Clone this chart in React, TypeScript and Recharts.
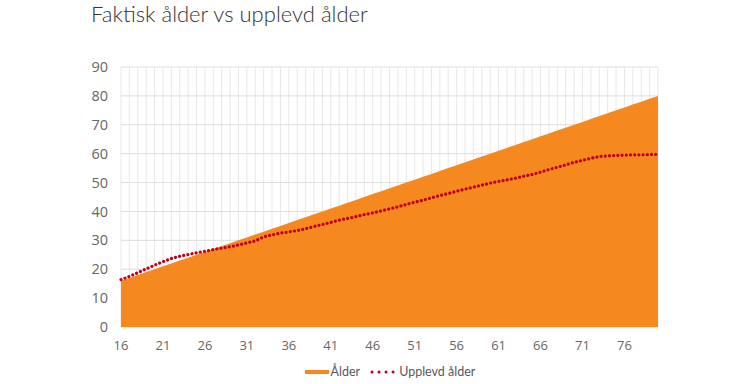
import { Area, CartesianGrid, ComposedChart, Line, XAxis, YAxis } from "recharts";

const ages = Array.from({ length: 65 }, (_, i) => 16 + i);

const actualAge = [
  16, 17, 18, 19, 20, 21, 22, 23, 24, 25, 26, 27, 28, 29, 30, 31, 32, 33, 34, 35, 36, 37, 38, 39, 40, 41, 42,
  43, 44, 45, 46, 47, 48, 49, 50, 51, 52, 53, 54, 55, 56, 57, 58, 59, 60, 61, 62, 63, 64, 65, 66, 67, 68, 69,
  70, 71, 72, 73, 74, 75, 76, 77, 78, 79, 80
];

const perceivedAge = [
  16.4, 17.5, 18.8, 20.1, 21.4, 22.6, 23.7, 24.5, 25.1, 25.7, 26.2, 26.8, 27.3, 27.8, 28.4, 29.1, 29.8, 31.2,
  31.9, 32.5, 32.9, 33.4, 34.0, 34.8, 35.5, 36.2, 37.0, 37.6, 38.2, 38.9, 39.5, 40.2, 40.9, 41.6, 42.4, 43.2,
  43.9, 44.7, 45.5, 46.2, 47.0, 47.7, 48.4, 49.1, 49.8, 50.4, 50.9, 51.5, 52.2, 52.8, 53.6, 54.5, 55.3, 56.1,
  57.0, 57.7, 58.4, 59.0, 59.2, 59.4, 59.5, 59.6, 59.6, 59.7, 59.8
];

const yTicks = [0, 10, 20, 30, 40, 50, 60, 70, 80, 90];

const data = ages.map((age, i) => ({ age, actual: actualAge[i], perceived: perceivedAge[i] }));

const ORANGE = "#F5891F";
const RED = "#C0001B";
const TEXT = "#666666";

function AgeTick(props: any) {
  const { x, y, payload, index } = props;
  if (index % 5 !== 0) return <g />;
  return (
    <text x={x} y={y} dy="0.71em" textAnchor="middle" fill={TEXT} fontSize={13} fontFamily="Open Sans">
      {payload.value}
    </text>
  );
}

function ChartLegend() {
  return (
    <div
      style={{
        position: "absolute",
        left: 0,
        top: 364,
        width: 750,
        display: "flex",
        justifyContent: "center",
        alignItems: "center",
        fontFamily: "Lato",
        fontSize: 12.5,
        color: "#595959",
        paddingLeft: 30,
        boxSizing: "border-box"
      }}
    >
      <span style={{ display: "inline-block", width: 24, height: 4, background: ORANGE, marginRight: 2 }} />
      <span style={{ marginRight: 10 }}>Ålder</span>
      <svg width={26} height={6} style={{ marginRight: 3 }}>
        <line
          x1={2}
          y1={3}
          x2={24}
          y2={3}
          stroke={RED}
          strokeWidth={3}
          strokeLinecap="round"
          strokeDasharray="0.01 7"
        />
      </svg>
      <span>Upplevd ålder</span>
    </div>
  );
}

export default function App() {
  return (
    <div style={{ position: "absolute", left: 0, top: 0, width: 750, height: 384, background: "#fff" }}>
      <div
        style={{
          position: "absolute",
          left: 91,
          top: 0,
          fontFamily: "Lato",
          fontSize: 22,
          fontWeight: 300,
          color: "#333333",
          whiteSpace: "nowrap"
        }}
      >
        Faktisk ålder vs upplevd ålder
      </div>
      <ComposedChart width={750} height={384} data={data} margin={{ top: 67, right: 92, bottom: 0, left: 0 }}>
        <CartesianGrid horizontal={false} stroke="#e8e8e8" />
        <CartesianGrid vertical={false} stroke="#dcdcdc" />
        <XAxis
          dataKey="age"
          interval={0}
          tick={<AgeTick />}
          tickLine={false}
          axisLine={false}
          tickSize={0}
          tickMargin={14}
          height={57}
        />
        <YAxis
          domain={[0, 90]}
          ticks={yTicks}
          width={121}
          tickLine={false}
          axisLine={false}
          tickSize={0}
          tickMargin={13}
          tick={{ fill: TEXT, fontSize: 14.5, fontFamily: "Open Sans" }}
        />
        <Area
          type="linear"
          dataKey="actual"
          name="Ålder"
          fill={ORANGE}
          fillOpacity={1}
          stroke="none"
          isAnimationActive={false}
        />
        <Line
          type="linear"
          dataKey="perceived"
          name="Upplevd ålder"
          stroke={RED}
          strokeWidth={3.2}
          strokeLinecap="round"
          strokeDasharray="0.01 4.2"
          dot={false}
          activeDot={false}
          isAnimationActive={false}
        />
      </ComposedChart>
      <ChartLegend />
    </div>
  );
}
